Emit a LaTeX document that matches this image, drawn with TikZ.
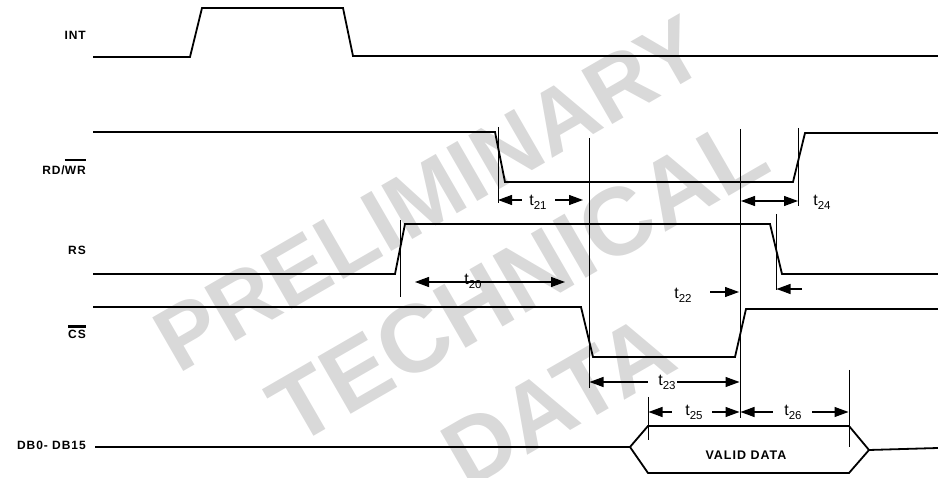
\documentclass[tikz,border=0pt]{standalone}
\usepackage{fontspec}
\setmainfont{Liberation Sans}
\newfontfamily\lblfont{Liberation Sans}[LetterSpace=8]
\newfontfamily\wmfont{Liberation Sans}
\usetikzlibrary{arrows.meta}
\definecolor{wmgray}{RGB}{217,217,217}
\newcommand{\tsub}[1]{t\raisebox{-4pt}{\fontsize{11.5}{12}\selectfont #1}}
\newcommand{\ovl}[2]{\leavevmode\vbox{\hrule height 2.5pt\kern #1\hbox{#2}}}
\begin{document}
\begin{tikzpicture}[x=1pt,y=-1pt,
  sig/.style={line width=1.8pt, line join=miter},
  markline/.style={line width=0.9pt},
  dim/.style={line width=1.1pt},
  tipR/.style={-{Triangle[length=14pt,width=10pt]}},
  tipL/.style={{Triangle[length=14pt,width=10pt]}-},
  tipLR/.style={{Triangle[length=14pt,width=10pt]}-{Triangle[length=14pt,width=10pt]}},
  lbl/.style={anchor=east, inner sep=0pt, font=\lblfont\bfseries\fontsize{12}{14}\selectfont},
  tl/.style={inner sep=0pt, font=\fontsize{16}{18}\selectfont},
  wm/.style={inner sep=0pt, text=wmgray, rotate=30}]
\useasboundingbox (0,0) rectangle (938,478);
% watermark
\node[wm, font=\wmfont\bfseries\fontsize{90}{100}\selectfont] (wm1) at (430,194) {PRELIMINARY};
\node[wm, font=\wmfont\bfseries\fontsize{96}{104}\selectfont] (wm2) at (518,280) {TECHNICAL};
\node[wm, font=\wmfont\bfseries\fontsize{94}{104}\selectfont] (wm3) at (558,401) {DATA};
% labels
\node[lbl] (lint) at (86,35.5) {INT};
\node[lbl] (lrdwr) at (86,167) {RD/\ovl{5pt}{WR}};
\node[lbl] (lrs) at (86,250.5) {RS};
\node[lbl] (lcs) at (86,332) {\ovl{3pt}{CS}};
\node[lbl] (ldb) at (86,445) {DB0- DB15};
% signals
\draw[sig] (93,57) -- (190,57) -- (202,8) -- (343,8) -- (353,56) -- (938,56);
\draw[sig] (93,132) -- (495,132) -- (505,182) -- (793,182) -- (805,133) -- (938,133);
\draw[sig] (93,274) -- (395,274) -- (405,224) -- (770,224) -- (782,274) -- (938,274);
\draw[sig] (93,307) -- (581,307) -- (593,357) -- (735,357) -- (746,309) -- (938,309);
\draw[sig] (95,447) -- (630,447);
\draw[sig] (630,447) -- (648,426) -- (849,426) -- (869,450) -- (849,473) -- (648,473) -- cycle;
\draw[sig] (869,450) -- (938,448);
\node[inner sep=0pt, font=\lblfont\bfseries\fontsize{12.5}{14}\selectfont] (vd) at (746,455) {VALID DATA};
% marker lines
\coordinate (m1a) at (400,220); \coordinate (m1b) at (400,297);
\coordinate (m2a) at (498,127); \coordinate (m2b) at (498,203);
\coordinate (m3a) at (589,138); \coordinate (m3b) at (589,388);
\coordinate (m4a) at (740,129); \coordinate (m4b) at (740,418);
\coordinate (m5a) at (798.5,128); \coordinate (m5b) at (798.5,206);
\coordinate (m6a) at (776,214); \coordinate (m6b) at (776,290);
\coordinate (m7a) at (648,397); \coordinate (m7b) at (648,440);
\coordinate (m8a) at (849,370); \coordinate (m8b) at (849,447);
\foreach \i in {1,...,8} \draw[markline] (m\i a) -- (m\i b);
% dimensions
\draw[dim,tipL] (498,200) -- (522,200);
\node[tl] (t21) at (538,202.5) {\tsub{21}};
\draw[dim,tipR] (555,200) -- (583,200);
\draw[dim,tipLR] (741,201) -- (798,201);
\node[tl] (t24) at (822,202) {\tsub{24}};
\draw[dim,tipLR] (415,282) -- (565,282);
\node[tl] (t20) at (473,281.5) {\tsub{20}};
\node[tl] (t22) at (683,295.5) {\tsub{22}};
\draw[dim,tipR] (710,292) -- (739,292);
\draw[dim,tipR] (802,289) -- (776.5,289);
\draw[dim,tipL] (589.5,382) -- (648,382);
\node[tl] (t23) at (667,382) {\tsub{23}};
\draw[dim,tipR] (677,382) -- (739.5,382);
\draw[dim,tipL] (648.5,412) -- (672,412);
\node[tl] (t25) at (694,412.5) {\tsub{25}};
\draw[dim,tipR] (712,412) -- (739.5,412);
\draw[dim,tipL] (740.5,412) -- (773,412);
\node[tl] (t26) at (793,412.5) {\tsub{26}};
\draw[dim,tipR] (812,412) -- (848.5,412);
\end{tikzpicture}
\end{document}
